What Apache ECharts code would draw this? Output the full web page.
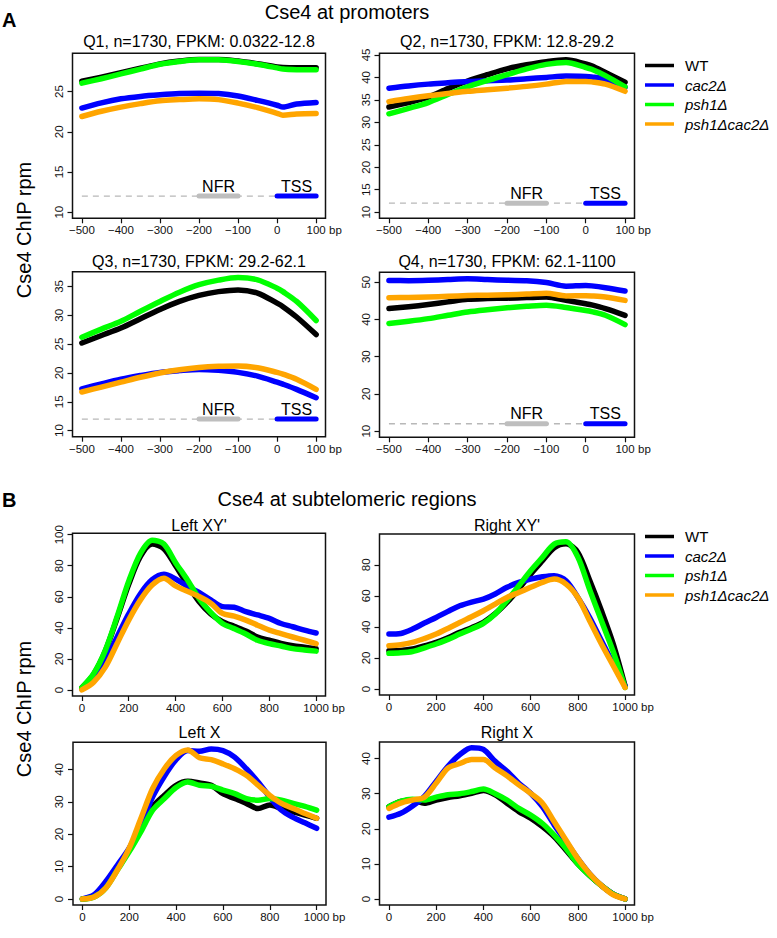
<!DOCTYPE html>
<html><head><meta charset="utf-8">
<script src="https://cdn.jsdelivr.net/npm/echarts@6/dist/echarts.min.js"></script>
<style>html,body{margin:0;padding:0;background:#fff}#c{width:777px;height:938px}</style>
</head><body><div id="c"></div>
<script>
// ---------- data ----------
const NAMES = ['WT', 'cac2Δ', 'psh1Δ', 'psh1Δcac2Δ'];
const COLORS = ['#000000', '#0000ff', '#00ff00', '#ffa500'];

const PROMOTER_X = [-500, -450, -400, -350, -300, -250, -200, -150, -100, -50, 0, 15, 50, 100];
const PROMOTER_X_TICKS = [-500, -400, -300, -200, -100, 0, 100];
const MARK_Y = 12;
const NFR_RANGE = [-200, -100];
const TSS_RANGE = [0, 100];

const Q1_WT     = [26.3, 26.8, 27.35, 27.9, 28.45, 28.8, 29.0, 29.0, 28.8, 28.45, 28.05, 27.98, 27.95, 27.95];
const Q1_CAC2   = [22.95, 23.6, 24.1, 24.4, 24.6, 24.75, 24.8, 24.75, 24.45, 23.9, 23.3, 23.07, 23.45, 23.65];
const Q1_PSH1   = [26.05, 26.6, 27.2, 27.8, 28.4, 28.75, 28.96, 28.95, 28.75, 28.4, 27.95, 27.8, 27.72, 27.7];
const Q1_DOUBLE = [21.9, 22.55, 23.07, 23.5, 23.86, 24.0, 24.1, 24.0, 23.57, 23.0, 22.3, 22.07, 22.22, 22.28];
const Q1_Y_TICKS = [10, 15, 20, 25];

const Q2_WT     = [33.4, 34.4, 35.6, 37.5, 39.2, 40.6, 41.9, 42.8, 43.5, 43.9, 43.0, 42.6, 41.1, 38.9];
const Q2_CAC2   = [37.6, 38.1, 38.5, 38.8, 39.1, 39.25, 39.4, 39.7, 40.0, 40.3, 40.2, 40.1, 39.6, 37.8];
const Q2_PSH1   = [31.9, 33.1, 34.4, 36.2, 37.9, 39.3, 40.6, 41.9, 42.9, 43.3, 42.2, 41.8, 40.4, 37.9];
const Q2_DOUBLE = [34.6, 35.3, 35.9, 36.4, 36.9, 37.25, 37.6, 38.0, 38.5, 39.1, 39.1, 39.0, 38.5, 36.9];
const Q2_Y_TICKS = [10, 15, 20, 25, 30, 35, 40, 45];

const Q3_WT     = [25.2, 26.5, 27.8, 29.4, 31.0, 32.4, 33.45, 34.1, 34.4, 33.85, 32.1, 31.5, 29.7, 26.65];
const Q3_CAC2   = [17.25, 18.1, 18.9, 19.55, 20.1, 20.4, 20.6, 20.45, 20.1, 19.45, 18.4, 18.05, 17.15, 15.7];
const Q3_PSH1   = [26.2, 27.6, 28.95, 30.7, 32.4, 34.0, 35.3, 36.1, 36.55, 36.15, 34.7, 34.1, 32.4, 29.1];
const Q3_DOUBLE = [16.7, 17.55, 18.4, 19.25, 20.0, 20.55, 20.95, 21.15, 21.2, 20.9, 20.1, 19.8, 18.9, 17.15];
const Q3_Y_TICKS = [10, 15, 20, 25, 30, 35];

const Q4_WT     = [42.9, 43.4, 44.0, 44.7, 45.4, 45.6, 45.7, 45.85, 46.0, 45.1, 44.2, 43.9, 42.9, 41.1];
const Q4_CAC2   = [50.45, 50.4, 50.5, 50.7, 50.9, 50.7, 50.5, 50.4, 49.9, 48.9, 49.1, 49.0, 48.5, 47.6];
const Q4_PSH1   = [38.9, 39.5, 40.2, 41.1, 42.0, 42.6, 43.1, 43.5, 43.8, 43.2, 42.4, 42.1, 41.1, 38.6];
const Q4_DOUBLE = [45.8, 45.9, 46.0, 46.2, 46.4, 46.5, 46.6, 46.8, 47.05, 46.3, 46.35, 46.3, 46.0, 45.1];
const Q4_Y_TICKS = [10, 20, 30, 40, 50];

const SUBTEL_X = [0, 50, 100, 150, 200, 250, 300, 350, 400, 450, 500, 550, 600, 650, 700, 750, 800, 850, 900, 950, 1000];
const SUBTEL_X_TICKS = [0, 200, 400, 600, 800, 1000];

const LXY_WT     = [1.5, 10, 25, 46, 68, 86, 94, 91, 80, 68, 57, 49, 44, 41, 38, 34, 32, 30, 28.5, 27.5, 26.5];
const LXY_CAC2   = [0.5, 8, 19, 34, 49, 62, 71, 74.5, 71.5, 66.7, 62.8, 58, 53.7, 53.3, 50.4, 48.3, 46.1, 42.8, 40.7, 38.5, 36.7];
const LXY_PSH1   = [1.5, 10.4, 25.5, 47, 70, 88, 96.5, 94, 82, 71, 59, 50, 42.8, 39.5, 36, 32, 29.8, 28.3, 26.6, 25.8, 25.0];
const LXY_DOUBLE = [0, 5, 14.7, 29.8, 45, 58, 67.6, 72, 67, 63.5, 60.2, 55.9, 49.3, 47.6, 45, 41.7, 38.5, 36.3, 34.1, 32, 29.8];
const XY_Y_TICKS = [0, 20, 40, 60, 80, 100];

const RXY_WT     = [24.7, 24.9, 25.8, 27.8, 30, 33, 36.5, 39.5, 43, 48.5, 55.8, 64.5, 74, 82.6, 91, 93.5, 88, 70, 50.4, 29, 2];
const RXY_CAC2   = [35.4, 35.8, 38.6, 42.5, 46.1, 50, 53.6, 56, 57.9, 61.2, 65.5, 68.7, 70.8, 72.3, 73, 69.7, 59, 46.1, 31.1, 16.1, 2.1];
const RXY_PSH1   = [23, 23.3, 24.2, 26.5, 29, 32, 35.4, 38.7, 42.3, 48.3, 56.9, 66.5, 76.2, 84.8, 93.3, 94.8, 85, 64, 44, 24, 1];
const RXY_DOUBLE = [27.9, 28.5, 30, 32.5, 35.4, 39, 42.9, 46.5, 50.4, 54.7, 59, 62.2, 65.5, 68.7, 70.8, 67.6, 59, 44, 29, 15, 1];

const LX_WT     = [0, 0.8, 4.4, 10, 15.1, 21.8, 28.4, 32, 35.1, 36.3, 35.8, 35.1, 32.5, 31, 29.5, 27.9, 29, 27.9, 26.9, 25.9, 24.9];
const LX_CAC2   = [0, 1.3, 5.4, 10.5, 15.7, 22.8, 31.5, 37.9, 43, 45.8, 45.6, 46.3, 45.8, 43.8, 40.2, 36.1, 31.5, 27.4, 25.2, 23.5, 21.8];
const LX_PSH1   = [0, 0.6, 3.4, 9, 14.6, 20.8, 27.4, 31, 34.4, 36.1, 35.1, 34.8, 33.6, 32.5, 31, 30.5, 31, 30.5, 29.5, 28.6, 27.4];
const LX_DOUBLE = [0, 0.6, 3.4, 9, 15.7, 24.9, 34.1, 40.2, 44.3, 46, 43.6, 43, 41.7, 40.2, 38.2, 35.1, 32, 29.5, 27.9, 26.4, 24.9];

const RX_WT     = [26.3, 27.8, 28.2, 27.3, 28.2, 28.9, 29.4, 30.1, 30.9, 29.7, 27.3, 24.9, 23, 20.6, 17.7, 13.9, 10, 6.7, 3.8, 1.4, 0];
const RX_CAC2   = [23.3, 24.4, 26.5, 29.2, 33.5, 37.8, 41.1, 43.1, 42.6, 39.2, 36.4, 33, 30.1, 26.3, 21.1, 16.3, 11.5, 7.2, 3.8, 1.4, 0];
const RX_PSH1   = [26.3, 27.8, 28.4, 28.2, 29, 29.7, 30, 30.6, 31.3, 30, 28.2, 25.8, 23.9, 21.5, 18.2, 14.4, 10, 6.7, 3.8, 1.4, 0];
const RX_DOUBLE = [25.8, 27.3, 28.2, 29, 33, 37.3, 38.6, 39.7, 39.7, 37.3, 35.1, 32.5, 30.1, 27.3, 22, 16.7, 11.5, 7.2, 3.8, 1.2, 0];
const X_Y_TICKS = [0, 10, 20, 30, 40];

// ---------- layout ----------
const FONT = '"Liberation Sans", Arial, Helvetica, sans-serif';
const L = 72.5, LW = 253, R = 379.5, RW = 255;
const panels = [
  {title: 'Q1, n=1730, FPKM: 0.0322-12.8', left: L, top: 53.3, width: LW, height: 165, titleY: 41.7, bpGap: 3.5,
   xr: [-524, 124], yr: [9.24, 29.76], xt: PROMOTER_X_TICKS, yt: Q1_Y_TICKS, x: PROMOTER_X, ys: [Q1_WT, Q1_CAC2, Q1_PSH1, Q1_DOUBLE], promoter: true},
  {title: 'Q2, n=1730, FPKM: 12.8-29.2', left: R, top: 53.3, width: RW, height: 165, titleY: 41.7, bpGap: 3.5,
   xr: [-524, 124], yr: [8.64, 45.36], xt: PROMOTER_X_TICKS, yt: Q2_Y_TICKS, x: PROMOTER_X, ys: [Q2_WT, Q2_CAC2, Q2_PSH1, Q2_DOUBLE], promoter: true},
  {title: 'Q3, n=1730, FPKM: 29.2-62.1', left: L, top: 271.7, width: LW, height: 165, titleY: 261.7, bpGap: 3.5,
   xr: [-524, 124], yr: [8.94, 37.56], xt: PROMOTER_X_TICKS, yt: Q3_Y_TICKS, x: PROMOTER_X, ys: [Q3_WT, Q3_CAC2, Q3_PSH1, Q3_DOUBLE], promoter: true},
  {title: 'Q4, n=1730, FPKM: 62.1-1100', left: R, top: 272.3, width: RW, height: 165, titleY: 261.7, bpGap: 3.5,
   xr: [-524, 124], yr: [8.36, 52.64], xt: PROMOTER_X_TICKS, yt: Q4_Y_TICKS, x: PROMOTER_X, ys: [Q4_WT, Q4_CAC2, Q4_PSH1, Q4_DOUBLE], promoter: true},
  {title: "Left XY'", left: L, top: 533.3, width: LW, height: 162.7, titleY: 525, bpGap: 6.5,
   xr: [-40, 1040], yr: [-3.9, 100.9], xt: SUBTEL_X_TICKS, yt: XY_Y_TICKS, x: SUBTEL_X, ys: [LXY_WT, LXY_CAC2, LXY_PSH1, LXY_DOUBLE]},
  {title: "Right XY'", left: R, top: 534, width: RW, height: 161, titleY: 525, bpGap: 6.5,
   xr: [-40, 1040], yr: [-3.84, 99.84], xt: SUBTEL_X_TICKS, yt: XY_Y_TICKS, x: SUBTEL_X, ys: [RXY_WT, RXY_CAC2, RXY_PSH1, RXY_DOUBLE]},
  {title: 'Left X', left: L + 0.5, top: 742.3, width: LW, height: 162.7, titleY: 732.3, bpGap: 6.5,
   xr: [-40, 1040], yr: [-1.86, 48.36], xt: SUBTEL_X_TICKS, yt: X_Y_TICKS, x: SUBTEL_X, ys: [LX_WT, LX_CAC2, LX_PSH1, LX_DOUBLE]},
  {title: 'Right X', left: R, top: 742, width: RW, height: 163, titleY: 732, bpGap: 6.5,
   xr: [-40, 1040], yr: [-1.72, 44.72], xt: SUBTEL_X_TICKS, yt: X_Y_TICKS, x: SUBTEL_X, ys: [RX_WT, RX_CAC2, RX_PSH1, RX_DOUBLE]}
];

const grid = [], xAxis = [], yAxis = [], series = [], graphic = [];
const minus = v => String(v).replace('-', '\u2212');

panels.forEach((p, i) => {
  grid.push({left: p.left, top: p.top, width: p.width, height: p.height, show: true,
    borderColor: '#111', borderWidth: 1.5, backgroundColor: 'transparent', containLabel: false});
  xAxis.push({type: 'value', gridIndex: i, min: p.xr[0], max: p.xr[1], position: 'bottom',
    splitLine: {show: false}, axisLine: {show: false, onZero: false},
    axisTick: {show: true, length: 5, customValues: p.xt, lineStyle: {color: '#111', width: 1.2}},
    axisLabel: {show: true, customValues: p.xt, fontSize: 11.5, color: '#111', margin: 6, fontFamily: FONT, formatter: minus}});
  yAxis.push({type: 'value', gridIndex: i, min: p.yr[0], max: p.yr[1], position: 'left',
    splitLine: {show: false}, axisLine: {show: false, onZero: false},
    axisTick: {show: true, length: 5, customValues: p.yt, lineStyle: {color: '#111', width: 1.2}},
    axisLabel: {show: true, customValues: p.yt, fontSize: 11.5, color: '#111', margin: 8, rotate: 90, fontFamily: FONT}});

  if (p.promoter) {
    const xs = p.xt;
    series.push({type: 'line', xAxisIndex: i, yAxisIndex: i, silent: true, symbol: 'none', z: 1,
      data: [[xs[0], MARK_Y], [xs[xs.length - 1], MARK_Y]],
      lineStyle: {color: '#b8b8b8', width: 1.3, type: [6, 5]}});
    series.push({type: 'line', xAxisIndex: i, yAxisIndex: i, silent: true, symbol: 'none', z: 2,
      data: NFR_RANGE.map(v => [v, MARK_Y]), lineStyle: {color: '#bebebe', width: 5, cap: 'round'}});
    series.push({type: 'line', xAxisIndex: i, yAxisIndex: i, silent: true, symbol: 'none', z: 2,
      data: TSS_RANGE.map(v => [v, MARK_Y]), lineStyle: {color: '#0000ff', width: 5, cap: 'round'}});
    [['NFR', NFR_RANGE], ['TSS', TSS_RANGE]].forEach(([txt, rg]) => {
      series.push({type: 'scatter', xAxisIndex: i, yAxisIndex: i, silent: true, symbolSize: 0, z: 3,
        itemStyle: {opacity: 1},
        data: [[(rg[0] + rg[1]) / 2, MARK_Y]],
        label: {show: true, position: 'top', distance: 2, formatter: txt, fontSize: 16, color: '#000', opacity: 1, fontFamily: FONT}});
    });
  }

  p.ys.forEach((vals, j) => {
    series.push({type: 'line', name: NAMES[j], xAxisIndex: i, yAxisIndex: i, silent: true,
      showSymbol: false, symbol: 'none', smooth: 0.3, z: 5 + j,
      data: p.x.map((xv, k) => [xv, vals[k]]),
      lineStyle: {color: COLORS[j], width: 5.5, cap: 'round', join: 'round'},
      itemStyle: {color: COLORS[j]}});
  });

  graphic.push({type: 'text', x: p.left + p.width / 2, y: p.titleY,
    style: {text: p.title, fontSize: 16, fontFamily: FONT, fill: '#000', textAlign: 'center', textVerticalAlign: 'middle'}});
  graphic.push({type: 'text', x: p.left + p.width + p.bpGap, y: p.top + p.height + 12,
    style: {text: 'bp', fontSize: 11.5, fontFamily: FONT, fill: '#111', textAlign: 'left', textVerticalAlign: 'middle'}});
});

graphic.push(
  {type: 'text', x: 2, y: 20, style: {text: 'A', fontSize: 20, fontWeight: 'bold', fontFamily: FONT, fill: '#000', textVerticalAlign: 'middle'}},
  {type: 'text', x: 2, y: 500, style: {text: 'B', fontSize: 20, fontWeight: 'bold', fontFamily: FONT, fill: '#000', textVerticalAlign: 'middle'}},
  {type: 'text', x: 347, y: 12, style: {text: 'Cse4 at promoters', fontSize: 20, fontFamily: FONT, fill: '#000', textAlign: 'center', textVerticalAlign: 'middle'}},
  {type: 'text', x: 347, y: 499, style: {text: 'Cse4 at subtelomeric regions', fontSize: 20, fontFamily: FONT, fill: '#000', textAlign: 'center', textVerticalAlign: 'middle'}},
  {type: 'text', x: 24, y: 230, rotation: Math.PI / 2, style: {text: 'Cse4 ChIP rpm', fontSize: 20, fontFamily: FONT, fill: '#000', textAlign: 'center', textVerticalAlign: 'middle'}},
  {type: 'text', x: 24, y: 709, rotation: Math.PI / 2, style: {text: 'Cse4 ChIP rpm', fontSize: 20, fontFamily: FONT, fill: '#000', textAlign: 'center', textVerticalAlign: 'middle'}}
);

const legendBase = {
  data: NAMES, orient: 'vertical', left: 640, icon: 'rect', itemWidth: 29, itemHeight: 3.5, itemGap: 4.5,
  selectedMode: false,
  formatter: n => n === 'WT' ? '{n|' + n + '}' : '{i|' + n + '}',
  textStyle: {fontFamily: FONT, fontSize: 15, color: '#000',
    rich: {n: {fontSize: 15, fontFamily: FONT, padding: [0, 0, 0, 6]}, i: {fontSize: 15, fontStyle: 'italic', fontFamily: FONT, padding: [0, 0, 0, 6]}}}
};

const chart = echarts.init(document.getElementById('c'), null, {renderer: 'svg'});
chart.setOption({
  animation: false,
  backgroundColor: '#fff',
  grid, xAxis, yAxis, series, graphic,
  legend: [Object.assign({}, legendBase, {top: 53}), Object.assign({}, legendBase, {top: 524})]
});
</script></body></html>
